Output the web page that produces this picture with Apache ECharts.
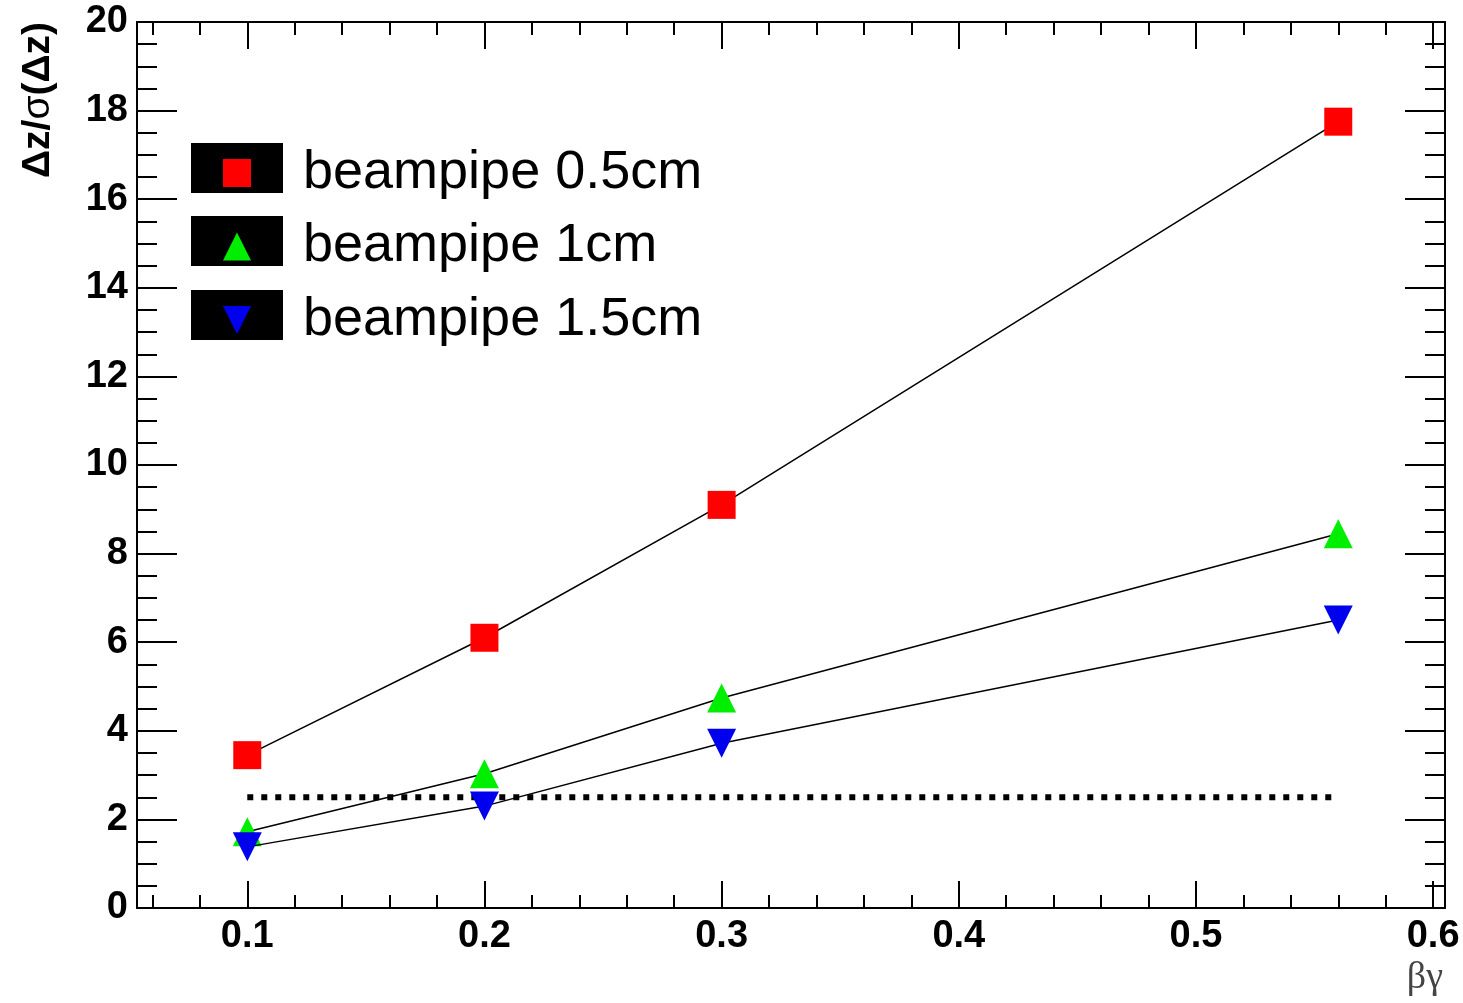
<!DOCTYPE html>
<html>
<head>
<meta charset="utf-8">
<script src="https://cdn.jsdelivr.net/npm/echarts@6/dist/echarts.min.js"></script>
<style>
html,body{margin:0;padding:0;background:#fff;}
#chart{width:1463px;height:1003px;}
</style>
</head>
<body>
<div id="chart"></div>
<script>
// ---- data ----
const seriesNames = ['beampipe 0.5cm', 'beampipe 1cm', 'beampipe 1.5cm'];
const betaGamma = [0.1, 0.2, 0.3, 0.56];
const pipe05 = [3.45, 6.1, 9.1, 17.75];
const pipe10 = [1.72, 3.03, 4.74, 8.45];
const pipe15 = [1.38, 2.3, 3.72, 6.5];
const thresholdX = [0.1, 0.56];
const thresholdY = [2.5, 2.5];
const xMajorTicks = [0.1, 0.2, 0.3, 0.4, 0.5, 0.6];
const xMinorTicks = [0.06, 0.08, 0.12, 0.14, 0.16, 0.18, 0.22, 0.24, 0.26, 0.28,
  0.32, 0.34, 0.36, 0.38, 0.42, 0.44, 0.46, 0.48, 0.52, 0.54, 0.56, 0.58];

const pairs = (xs, ys) => xs.map((x, i) => [x, ys[i]]);

const FONT = '"Liberation Sans", Arial, Helvetica, sans-serif';
const XMIN = 0.0535, XMAX = 0.605;
const GRID = {left: 137, right: 18, top: 22, bottom: 95, containLabel: false};

function xAxisDef(grid, pos, ticks, len, withLabels) {
  return {
    type: 'value', gridIndex: grid, position: pos, min: XMIN, max: XMAX,
    splitLine: {show: false},
    axisLine: {show: withLabels !== null, onZero: false, lineStyle: {color: '#000', width: 2}},
    axisTick: {show: true, inside: true, length: len, customValues: ticks, lineStyle: {color: '#000', width: 2}},
    axisLabel: withLabels ? {show: true, customValues: ticks, formatter: v => v.toFixed(1),
      color: '#000', fontFamily: FONT, fontWeight: 'bold', fontSize: 38, margin: 10} : {show: false}
  };
}

function yAxisDef(grid, pos, labels, visible) {
  return {
    type: 'value', gridIndex: grid, position: pos, min: 0, max: 20, interval: 2,
    splitLine: {show: false},
    axisLine: {show: visible, onZero: false, lineStyle: {color: '#000', width: 2}},
    axisTick: {show: visible, inside: true, length: 40, lineStyle: {color: '#000', width: 2}},
    minorTick: {show: visible, splitNumber: 4, length: 20, lineStyle: {color: '#000', width: 2}},
    axisLabel: {show: labels, color: '#000', fontFamily: FONT, fontWeight: 'bold', fontSize: 38, margin: 9}
  };
}

const chart = echarts.init(document.getElementById('chart'), null, {renderer: 'canvas'});
chart.setOption({
  animation: false,
  backgroundColor: '#fff',
  grid: [Object.assign({}, GRID), Object.assign({}, GRID)],
  xAxis: [
    xAxisDef(0, 'bottom', xMajorTicks, 27, true),
    xAxisDef(0, 'top', xMajorTicks, 27, false),
    xAxisDef(1, 'bottom', xMinorTicks, 13, null),
    xAxisDef(1, 'top', xMinorTicks, 13, null)
  ],
  yAxis: [
    yAxisDef(0, 'left', true, true),
    yAxisDef(0, 'right', false, true),
    yAxisDef(1, 'left', false, false)
  ],
  legend: {
    orient: 'vertical', left: 218, top: 141,
    itemWidth: 28, itemHeight: 28, itemGap: 19.5,
    textStyle: {color: '#000', fontFamily: FONT, fontSize: 54, padding: [0, 0, 0, 47]},
    data: [
      {name: seriesNames[0], icon: 'rect'},
      {name: seriesNames[1], icon: 'triangle'},
      {name: seriesNames[2], icon: 'path://M0,0 L2,0 L1,2 Z'}
    ],
    selectedMode: false
  },
  graphic: [
    {type: 'rect', left: 191, top: 143, z: -1, shape: {width: 92, height: 50}, style: {fill: '#000'}, silent: true},
    {type: 'rect', left: 191, top: 216, z: -1, shape: {width: 92, height: 50}, style: {fill: '#000'}, silent: true},
    {type: 'rect', left: 191, top: 290, z: -1, shape: {width: 92, height: 50}, style: {fill: '#000'}, silent: true},
    {type: 'text', x: 38, y: 22, rotation: Math.PI / 2, silent: true,
      style: {text: '{b|Δz/}{s|σ}{b|(Δz)}', align: 'right', verticalAlign: 'middle',
        rich: {b: {fontFamily: FONT, fontWeight: 'bold', fontSize: 39, fill: '#000'},
               s: {fontFamily: FONT, fontSize: 39, fill: '#000'}}}},
    {type: 'text', x: 1443, y: 978, silent: true,
      style: {text: 'βγ', align: 'right', verticalAlign: 'middle',
        fontFamily: '"Liberation Serif", "DejaVu Serif", serif', fontSize: 38, fill: '#444'}}
  ],
  series: [
    {type: 'line', name: 'threshold', xAxisIndex: 0, yAxisIndex: 0, data: pairs(thresholdX, thresholdY),
      symbol: 'none', lineStyle: {color: '#000', width: 6, type: [6, 8]}, z: 1, silent: true},
    {type: 'line', name: seriesNames[0], xAxisIndex: 0, yAxisIndex: 0, data: pairs(betaGamma, pipe05),
      symbol: 'rect', symbolSize: 28, itemStyle: {color: '#ff0000'}, lineStyle: {color: '#000', width: 1.5}, z: 3},
    {type: 'line', name: seriesNames[1], xAxisIndex: 0, yAxisIndex: 0, data: pairs(betaGamma, pipe10),
      symbol: 'triangle', symbolSize: 29, itemStyle: {color: '#00ee00'}, lineStyle: {color: '#000', width: 1.5}, z: 3},
    {type: 'line', name: seriesNames[2], xAxisIndex: 0, yAxisIndex: 0, data: pairs(betaGamma, pipe15),
      symbol: 'triangle', symbolRotate: 180, symbolSize: 29, itemStyle: {color: '#0000ee'}, lineStyle: {color: '#000', width: 1.5}, z: 4}
  ]
});
</script>
</body>
</html>
